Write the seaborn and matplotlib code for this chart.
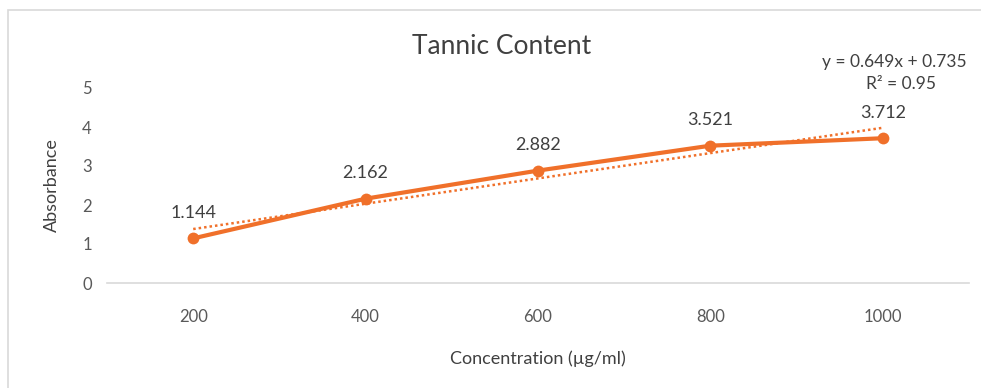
import numpy as np
import pandas as pd
import matplotlib
matplotlib.use("Agg")
import matplotlib.pyplot as plt
from matplotlib.patches import Rectangle
import seaborn as sns

# Calibration data
concentrations = ["200", "400", "600", "800", "1000"]
absorbance = [1.144, 2.162, 2.882, 3.521, 3.712]
y_ticks = [0, 1, 2, 3, 4, 5]

# Linear trendline over the category index (1..5)
trend_slope = 0.649
trend_intercept = 0.735
trend_r2 = 0.95

title = "Tannic Content"
x_label = "Concentration (µg/ml)"
y_label = "Absorbance"

ORANGE = "#F0702A"
TEXT = "#404040"
TICK = "#595959"
GRID = "#D9D9D9"

sns.set_theme(style="white")
plt.rcParams["font.family"] = ["Lato", "DejaVu Sans"]

df = pd.DataFrame({
    "pos": np.arange(1, len(concentrations) + 1),
    "absorbance": absorbance,
})

fig = plt.figure(figsize=(9.81, 3.88), dpi=100)
ax = fig.add_axes([107 / 981, 1 - 283 / 388, (969 - 107) / 981, (283 - 88) / 388])

# chart frame
fig.patches.append(Rectangle((8 / 981, -0.1), 1.2, 1 - 10 / 388 + 0.1,
                             transform=fig.transFigure, fill=False,
                             edgecolor=GRID, linewidth=1.2))

fit = trend_slope * df["pos"] + trend_intercept
ax.plot(df["pos"], fit, color=ORANGE, linestyle=(0, (1, 1.2)), linewidth=1.8,
        dash_capstyle="butt", zorder=2)

sns.lineplot(data=df, x="pos", y="absorbance", ax=ax, color=ORANGE,
             linewidth=3, marker="o", markersize=8.5, markeredgewidth=0, zorder=3)

for p, v in zip(df["pos"], df["absorbance"]):
    ax.annotate(f"{v:.3f}", (p, v), xytext=(0, 18.5), textcoords="offset points",
                ha="center", va="center", fontsize=13, color=TEXT)

fig.text(894 / 981, 1 - 62 / 388, f"y = {trend_slope:.3f}x + {trend_intercept:.3f}",
         ha="center", va="center", fontsize=12.5, color=TEXT)
fig.text(901 / 981, 1 - 84 / 388, f"R² = {trend_r2:.2f}",
         ha="center", va="center", fontsize=12.5, color=TEXT)

ax.set_xlim(0.5, len(concentrations) + 0.5)
ax.set_ylim(0, 5)
ax.set_xticks(df["pos"])
ax.set_xticklabels(concentrations)
ax.set_yticks(y_ticks)
ax.tick_params(axis="both", length=0, labelsize=12, colors=TICK)
ax.tick_params(axis="x", pad=19)
ax.tick_params(axis="y", pad=11)

ax.set_xlabel(x_label, fontsize=13, color=TEXT, labelpad=18)
ax.set_ylabel(y_label, fontsize=13, color=TEXT, labelpad=16)
fig.text(502 / 981, 1 - 47 / 388, title, ha="center", va="center",
         fontsize=19, color=TEXT)

for side in ["left", "right", "top"]:
    ax.spines[side].set_visible(False)
ax.spines["bottom"].set_color(GRID)
ax.spines["bottom"].set_linewidth(1.2)
ax.set_facecolor("none")

fig.savefig("out.png", dpi=100, facecolor="white")
